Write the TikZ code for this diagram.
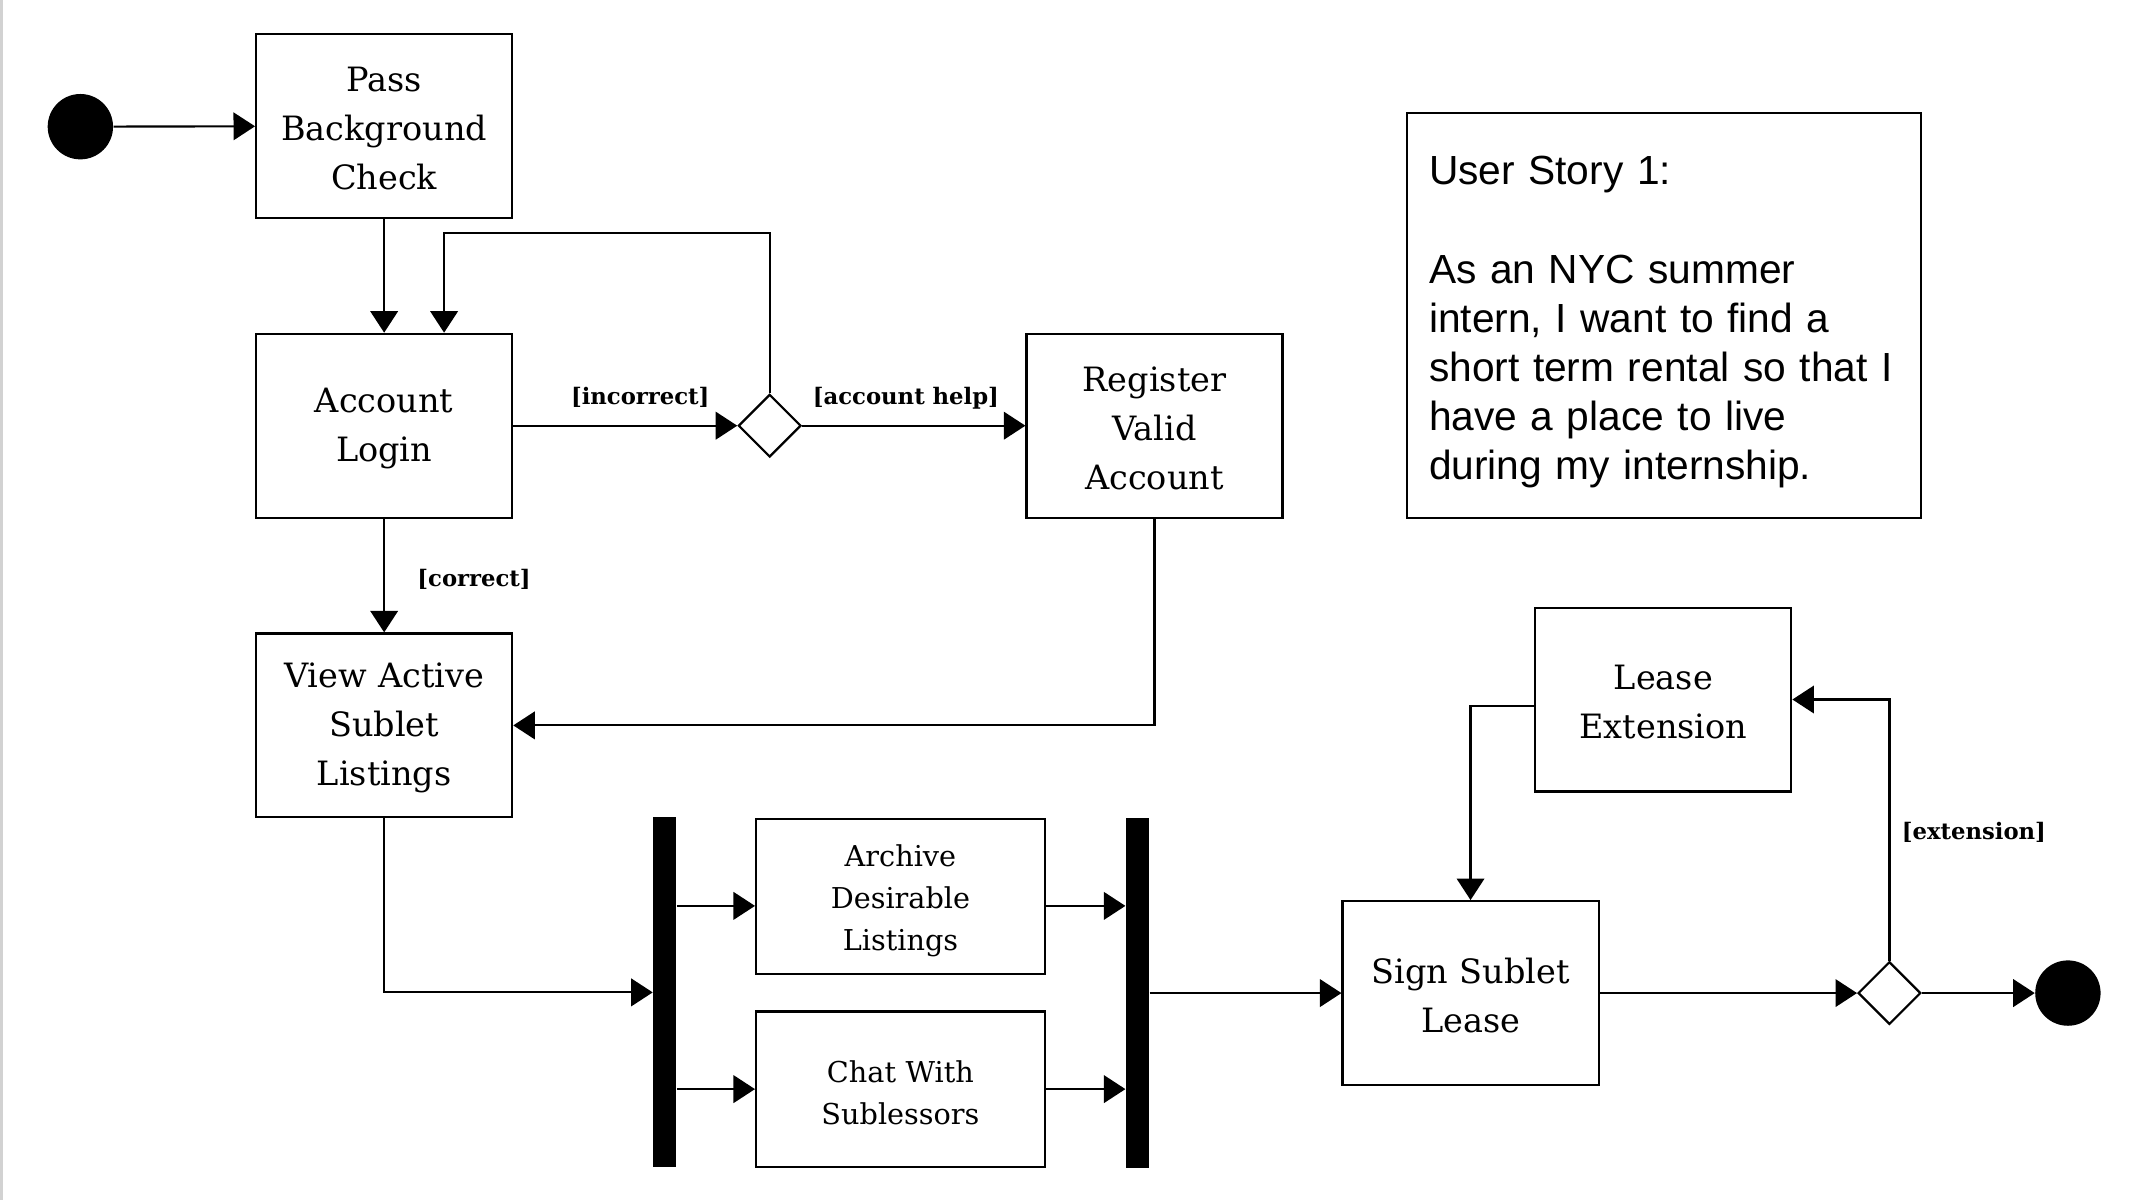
\documentclass[tikz,border=0pt]{standalone}
\usepackage{fontspec}
\setmainfont{DejaVu Serif}
\newfontfamily\storyfont{Liberation Sans}
\usetikzlibrary{arrows.meta,shapes.geometric}
\tikzset{
  act/.style={draw, line width=0.9pt, rectangle, inner sep=0pt, align=center,
    text width=3.76cm, minimum height=2.7cm, font=\fontsize{14}{20.5}\selectfont,
    execute at begin node={\rule{0pt}{12.5pt}}},
  smallact/.style={act, text width=4.24cm, minimum height=2.28cm,
    font=\fontsize{12}{17.6}\selectfont, execute at begin node={\rule{0pt}{9.9pt}}},
  choice/.style={draw, line width=0.9pt, diamond, aspect=1, inner sep=0pt, minimum size=0.92cm},
  dot/.style={circle, fill=black, inner sep=0pt, minimum size=0.96cm},
  bar/.style={rectangle, fill=black, inner sep=0pt, minimum width=0.34cm, minimum height=5.14cm},
  guard/.style={font=\fontsize{9.5}{11}\selectfont\bfseries},
  story/.style={draw, line width=0.9pt, align=left, text width=6.9cm, inner xsep=0.32cm,
    minimum height=5.94cm, font=\storyfont\fontsize{17}{20.5}\selectfont,
    execute at begin node={\rule{0pt}{17.5pt}}},
  flow/.style={line width=0.9pt, -{Triangle[length=9pt,width=11.5pt]}}
}
\begin{document}
\begin{tikzpicture}[x=0.02cm,y=-0.02cm]
  \useasboundingbox (0,0) rectangle (1568,881);
  \draw[gray!35, line width=1.2pt] (1,0) -- (1,881);
  \node[dot] (start) at (59,93) {};
  \node[act] (pass) at (282,92.5) {Pass\\Background\\Check};
  \node[act] (login) at (282,312.5) {Account\\Login};
  \node[choice] (help) at (565,312.5) {};
  \node[act] (register) at (847.5,312.5) {Register\\Valid\\Account};
  \node[act] (view) at (282,532.5) {View Active\\Sublet\\Listings};
  \node[bar] (fork) at (488,728.5) {};
  \node[smallact] (archive) at (661,658) {Archive\\Desirable\\Listings};
  \node[smallact] (chat) at (661,799.5) {Chat With\\Sublessors};
  \node[bar] (join) at (835,729) {};
  \node[act] (sign) at (1079.5,729) {Sign Sublet\\Lease};
  \node[choice] (extend) at (1387,729) {};
  \node[dot] (finish) at (1518,729) {};
  \node[act] (lease) at (1221,513.5) {Lease\\Extension};
  \node[story] (story) at (1221.5,231.5) {User Story 1:\\[20.5pt]As an NYC summer\\intern, I want to find a\\\mbox{short term rental so that I}\\have a place to live\\during my internship.};
  \node[guard] (incorrect) at (470,292) {[incorrect]};
  \node[guard] (accounthelp) at (665,292) {[account help]};
  \node[guard] (correct) at (348,425) {[correct]};
  \node[guard] (extension) at (1449,611) {[extension]};
  \begin{scope}[flow]
    \draw (start) -- (pass);
    \draw (pass) -- (login);
    \draw (login) -- (help);
    \draw (help.north) -- (help.north |- 0,171) -| (login.north -| 326,0);
    \draw (help) -- (register);
    \draw (login) -- (view);
    \draw (register.south) |- (view.east);
    \draw (view.south) |- (fork.west);
    \draw (fork.east |- 0,665) -- (archive.west |- 0,665);
    \draw (fork.east |- chat.west) -- (chat.west);
    \draw (archive.east |- 0,665) -- (join.west |- 0,665);
    \draw (chat.east) -- (join.west |- chat.east);
    \draw (join.east |- sign.west) -- (sign.west);
    \draw (sign) -- (extend);
    \draw (extend) -- (finish);
    \draw (extend.north) |- (lease.east);
    \draw (lease.west |- 0,518) -| (sign.north);
  \end{scope}
\end{tikzpicture}
\end{document}
